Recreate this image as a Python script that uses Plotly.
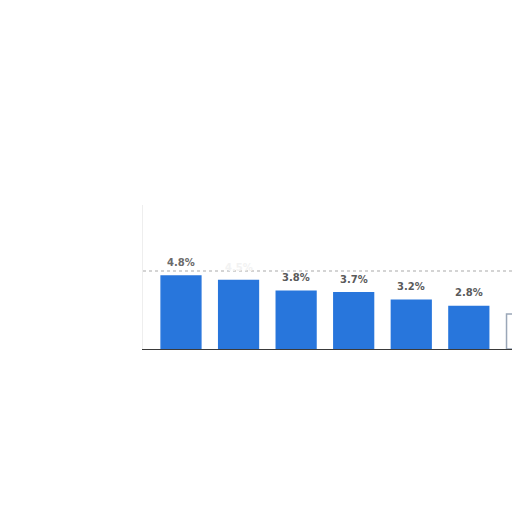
import plotly.graph_objects as go

# values (second label and last bar are partly hidden)
categories = ["A", "B", "C", "D", "E", "F", "G"]
values = [4.8, 4.5, 3.8, 3.7, 3.2, 2.8, 2.3]
labels = ["4.8%", "4.5%", "3.8%", "3.7%", "3.2%", "2.8%", "2.3%"]

bar_colors = ["#2876dc"] * 6 + ["#ffffff"]
line_colors = ["#2876dc"] * 6 + ["#9aa7b8"]
label_colors = ["#6a6a6a", "#f2f2f2", "#5a5a5a", "#5a5a5a", "#5a5a5a", "#5a5a5a", "#5a5a5a"]

xs = list(range(len(categories)))

fig = go.Figure(go.Bar(
    x=xs,
    y=values,
    width=0.69,
    marker=dict(color=bar_colors, line=dict(color=line_colors, width=1.5)),
    hoverinfo="skip",
))

# value labels above the bars
for x, v, t, c in zip(xs, values, labels, label_colors):
    fig.add_annotation(
        x=x, y=v, text="<b>" + t + "</b>",
        showarrow=False, yanchor="bottom", yshift=6,
        font=dict(family="DejaVu Sans", size=10, color=c),
    )

fig.update_layout(
    width=512,
    height=512,
    margin=dict(l=143, r=0, t=205, b=163),
    paper_bgcolor="white",
    plot_bgcolor="white",
    showlegend=False,
    xaxis=dict(
        range=[-0.66, 5.75],
        showticklabels=False,
        showgrid=False,
        zeroline=False,
        showline=True,
        linecolor="#3a3a3a",
        linewidth=1.2,
        ticks="",
    ),
    yaxis=dict(
        range=[0, 9.47],
        tickvals=[5.13],
        showticklabels=False,
        showgrid=True,
        gridcolor="#d4d4d4",
        griddash="dot",
        gridwidth=1.5,
        zeroline=False,
        showline=True,
        linecolor="#eeeeee",
        ticks="",
    ),
)

fig.write_html(
    "out.html",
    config={"displayModeBar": False},
    post_script="document.body.style.margin='0';document.body.style.overflow='hidden';",
)
